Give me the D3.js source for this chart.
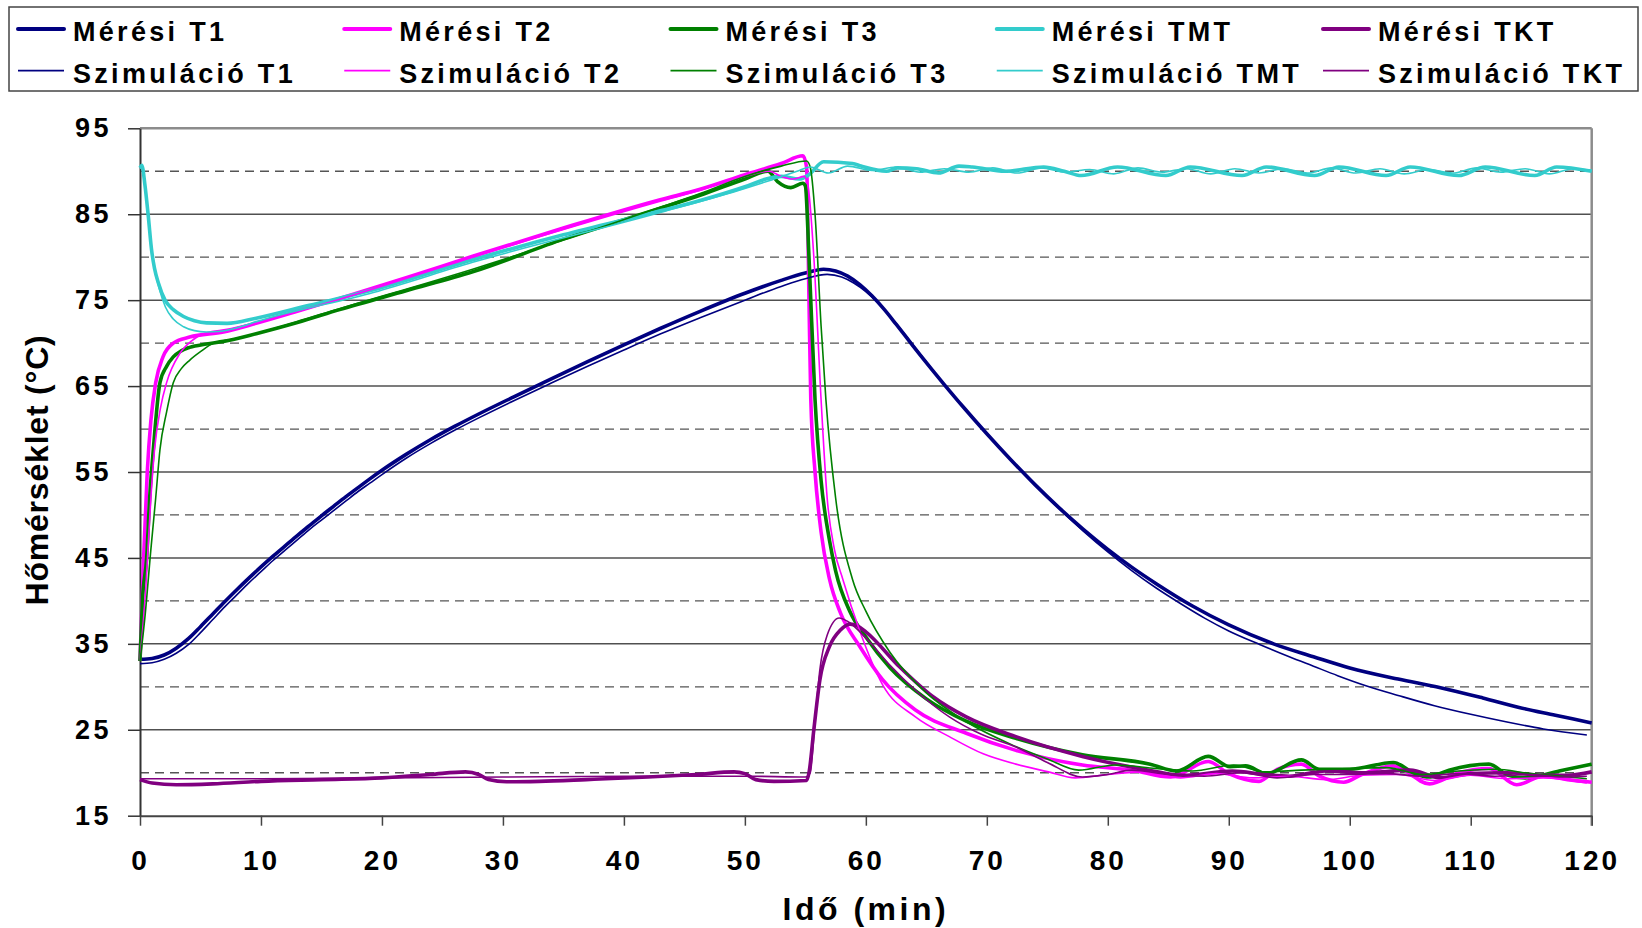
<!DOCTYPE html>
<html>
<head>
<meta charset="utf-8">
<script src="https://cdn.jsdelivr.net/npm/d3@7"></script>
<style>
  body { margin: 0; background: #fff; }
  text { font-family: Arial, "Liberation Sans", sans-serif; font-weight: bold; fill: #000; }
</style>
</head>
<body>
<svg id="chart" width="1642" height="928"></svg>
<script>
// Tengelyek
const timeTicks = [0, 10, 20, 30, 40, 50, 60, 70, 80, 90, 100, 110, 120];
const tempTicks = [15, 25, 35, 45, 55, 65, 75, 85, 95];
const tempMinor = [20, 30, 40, 50, 60, 70, 80, 90];

// Sorozatok: [idő (min), hőmérséklet (°C)]
const meresiT1 = [[0,33.2],[1,33.3],[2,33.7],[3,34.5],[4,35.6],[5,37],[6,38.45],[7,39.9],[8,41.3],[9,42.65],[10,43.95],[11,45.2],[12,46.4],[13,47.6],[14,48.75],[15,49.9],[16,51],[17,52.1],[18,53.15],[19,54.2],[20,55.2],[22,57.05],[24,58.75],[26,60.3],[28,61.75],[30.9,63.75],[34,65.85],[37,67.85],[40,69.8],[43,71.7],[46.3,73.7],[50,75.8],[53,77.3],[55,78.15],[56.5,78.6],[57.5,78.4],[58.5,77.8],[59.5,76.8],[60.5,75.5],[61.5,73.95],[62.5,72.2],[63.5,70.4],[64.5,68.6],[65.5,66.85],[66.5,65.15],[68,62.65],[70,59.45],[72,56.4],[74,53.5],[76,50.8],[78,48.3],[80,46],[82,43.9],[84,42],[87,39.4],[90,37.2],[93.7,35],[97,33.5],[100,32.2],[104,30.9],[107.5,29.9],[111,28.7],[114,27.6],[117,26.7],[120,25.8]];
const szimT1 = [[0,32.7],[1,32.8],[2,33.2],[3,33.9],[4,34.9],[5,36.3],[6,37.8],[7,39.3],[8,40.7],[9,42.1],[10,43.4],[11,44.7],[12,45.9],[13,47.1],[14,48.3],[15,49.4],[16,50.5],[17,51.6],[18,52.7],[19,53.7],[20,54.7],[22,56.6],[24,58.3],[26,59.85],[28,61.3],[30.9,63.3],[34,65.35],[37,67.3],[40,69.2],[43,71.05],[46.3,72.95],[50,75],[53,76.6],[55,77.5],[56.8,78],[58,77.7],[59,77],[60,76],[61,74.7],[62,73.1],[63,71.4],[64,69.6],[65,67.8],[66,66],[67,64.3],[68,62.7],[70,59.5],[72,56.4],[74,53.5],[76,50.7],[78,48.1],[80,45.7],[82,43.5],[84,41.5],[86,39.7],[88,38],[90,36.5],[92.6,34.9],[95,33.5],[97,32.4],[99,31.3],[101.4,30.1],[104,29],[107,27.8],[110,26.8],[113,25.9],[116,25.1],[119.6,24.4]];

const meresiT2 = [[0,33],[0.3,45],[0.6,55],[0.9,61],[1.3,65.4],[1.9,68.4],[2.75,70],[4.1,70.7],[6.9,71.3],[9.6,72.3],[13,73.7],[16.5,75.2],[22,77.6],[27.5,80.1],[35,83.4],[43,86.7],[46.3,87.9],[50,89.6],[53,90.9],[54.8,91.8],[55.1,90.5],[55.3,75],[55.45,63.4],[55.8,55],[56.3,48],[57,42.5],[57.9,38.6],[59.5,34.7],[61.4,30.8],[64.1,27.3],[68.3,24.6],[72.4,22.6],[77.9,20.9],[82,20.3],[85.2,19.5],[88.3,21.3],[90,19.9],[92.5,19],[94,20.4],[96,21],[97.5,19.6],[99.5,18.9],[101,19.8],[103.6,20.8],[106.6,18.7],[109,20],[111.5,20.5],[113.8,18.6],[116,19.6],[118,19.2],[120,18.9]];
const szimT2 = [[0,33],[0.5,42],[0.9,52],[1.2,57.6],[1.7,62.5],[2.2,65.4],[3.3,68.8],[4.3,70.3],[5.5,71.2],[7.2,71.6],[9.6,72.4],[16.5,75.1],[27.5,80],[43,86.5],[46.3,87.8],[50,89.4],[52,90],[53,89.4],[54,89.1],[54.9,89.4],[55.2,88.5],[55.7,80],[56.3,63.4],[56.8,52],[57.4,46],[58.1,42.5],[59.5,36.5],[61.4,30.2],[64.1,26.5],[66.9,24.2],[69.7,22.2],[72.4,21],[75.1,20.1],[77.3,19.4],[80,19.8],[83,20.1],[86,19.4],[89,19.9],[92,19.4],[95,19.6],[98,19.2],[101,19.7],[104,19.8],[107,19.1],[110,19.7],[113,19.3],[116,19.4],[119.6,18.8]];

const meresiT3 = [[0,33],[0.2,40],[0.55,45],[0.8,52],[1.1,57.6],[1.65,65.4],[2.2,67.3],[2.75,68.4],[3.4,69.1],[4.1,69.5],[5.5,69.9],[6.9,70.2],[9.6,71.1],[13,72.4],[16.5,73.9],[22,76.1],[27.5,78.3],[35,82.1],[43,85.7],[46.3,87.2],[50,89.1],[51.9,90],[52.7,88.8],[53.8,88.1],[54.8,88.6],[55,88.3],[55.3,80],[55.8,63.4],[56.3,54],[57,47],[57.5,43.5],[58.7,38.7],[60,35.8],[62,32.2],[65,28.6],[68.3,26],[72.4,24],[77.9,22.1],[83.5,21],[85.7,20.2],[88.3,21.9],[90.1,20.7],[91.4,20.8],[93.1,19.9],[96,21.5],[97.5,20.4],[100,20.4],[103.6,21.2],[105.4,19.9],[106.5,19.5],[108.2,20.3],[111.5,21],[113.1,19.7],[114.5,19.4],[117.6,20.3],[120,21]];
const szimT3 = [[0,33],[0.4,38],[0.9,46],[1.3,52],[1.65,57.6],[2.2,62],[2.75,65.4],[3.4,67],[4.1,68],[5,69],[6.1,70],[8.3,70.6],[9.6,71.1],[16.5,74],[27.5,78.6],[43,85.8],[46.3,87.4],[50,89.4],[53,90.6],[55.1,91.2],[55.4,90.5],[55.8,85],[56.3,72],[56.7,63.4],[57.5,52],[58.9,42.5],[60,38.8],[62,34],[65,29.3],[68,26.2],[72,23.3],[75,21.6],[77.6,20.3],[80.6,20.9],[84,20.5],[87,20.2],[90.4,20.9],[93,20.1],[96,20.3],[100,20.5],[103,20.6],[106,19.8],[109,20.2],[112,20.4],[115,19.9],[117.5,19.6],[119.6,19.3]];

const meresiTMT = [[0,90.4],[0.15,90.7],[0.4,88.5],[0.69,84.7],[0.96,80.8],[1.2,78.7],[1.52,77],[2.07,75],[2.75,73.9],[3.6,73.1],[4.5,72.6],[5.5,72.35],[7.2,72.3],[9.6,72.9],[14,74.4],[19.3,76.2],[27.5,79.7],[35,82.6],[43,85.4],[46.3,86.6],[50,88.2],[52,89.2],[53,89.4],[54.5,89.1],[55.3,89.6],[56.5,91.1],[58.9,90.9],[59.6,90.6],[61.7,90],[62.6,90.4],[64.2,90.3],[66,89.8],[67.7,90.6],[68.8,90.5],[71.5,90],[74.7,90.5],[76.4,90],[77.8,89.5],[80.8,90.5],[84.8,89.5],[86.8,90.5],[91.1,89.5],[93.1,90.5],[97.1,89.5],[99.1,90.5],[103,89.5],[105,90.5],[109,89.5],[111.2,90.5],[115.3,89.5],[117.1,90.5],[120,90]];
const szimTMT = [[0,90.3],[0.15,90.5],[0.4,88.3],[0.7,84.5],[1,80.5],[1.3,78],[1.6,76.3],[2.1,74.2],[2.75,72.8],[3.6,71.9],[4.5,71.45],[5.5,71.3],[6.5,71.35],[8.3,71.9],[9.6,72.5],[19.3,75.9],[27.5,79.4],[43,85.2],[50,88],[52,88.9],[54.5,90.1],[55.4,90.5],[56.9,89.8],[58.5,90.6],[60.5,90.1],[62.5,90.5],[64.5,89.9],[66.5,90.3],[68.5,89.9],[70.5,90.4],[72.5,89.8],[74.5,90.4],[76.5,89.9],[78.5,90.2],[80.5,89.7],[82.5,90.4],[84.5,89.9],[86.5,90.3],[88.5,89.7],[90.5,90.3],[92.5,89.8],[94.5,90.3],[96.5,89.8],[98.5,90.4],[100.5,89.8],[102.5,90.3],[104.5,89.7],[106.5,90.2],[108.5,89.8],[110.5,90.4],[112.5,89.9],[114.5,90.3],[116.5,89.7],[118.5,90.3],[120,90.1]];

const meresiTKT = [[0,19.2],[1,18.8],[3,18.6],[6,18.7],[10,19],[15,19.2],[20,19.4],[24,19.8],[26.9,20.1],[28,19.8],[28.8,19.2],[30.3,18.95],[33,19],[36.9,19.2],[42,19.5],[46,19.8],[49.1,20.1],[50,19.9],[50.9,19.2],[52.4,19],[55.1,19.1],[55.3,20],[55.7,25],[56.2,30.8],[57,34.7],[57.9,36.6],[58.7,37.3],[59.3,37.1],[60,36.4],[62.8,32.3],[65.5,28.9],[68.3,26.5],[72.4,24.2],[77.9,21.9],[83.4,20.3],[86.2,19.7],[90.3,20.2],[93,19.8],[95,19.6],[98,20.2],[101,20],[105,20.3],[107.5,19.4],[110,19.9],[113,20],[116,19.7],[118,19.7],[120,20.1]];
const szimTKT = [[0,19.3],[5,19.3],[10,19.3],[20,19.4],[30,19.5],[40,19.6],[50,19.6],[55,19.5],[55.4,20],[55.8,26],[56.2,32],[56.8,36],[57.8,38],[58.5,37.6],[60,35.7],[62,32.5],[64.1,29.6],[66.9,26.5],[69.5,24.5],[72.4,23],[75,21.2],[77.9,19.5],[80,19.8],[82,20.3],[85,19.8],[88,19.6],[91,20],[94,19.4],[97,19.8],[100,19.8],[103,19.9],[106,19.6],[109,19.9],[112,19.6],[115,19.8],[117.5,19.5],[119.6,19.6]];

const seriesNames = ["Mérési T1", "Mérési T2", "Mérési T3", "Mérési TMT", "Mérési TKT",
                     "Szimuláció T1", "Szimuláció T2", "Szimuláció T3", "Szimuláció TMT", "Szimuláció TKT"];
const seriesColors = ["#000080", "#ff00ff", "#008000", "#33cccc", "#800080"];
const seriesValues = [meresiT1, meresiT2, meresiT3, meresiTMT, meresiTKT,
                      szimT1, szimT2, szimT3, szimTMT, szimTKT];

const series = seriesNames.map((name, i) => ({
  name,
  values: seriesValues[i],
  color: seriesColors[i % 5],
  measured: i < 5
}));

// Méretek
const svg = d3.select("#chart");
const plot = { left: 140, right: 1591.7, top: 128.3, bottom: 815.7 };

const x = d3.scaleLinear().domain([0, 120]).range([plot.left, plot.right]);
const y = d3.scaleLinear().domain([15, 95]).range([plot.bottom, plot.top]);

svg.append("rect").attr("width", 1642).attr("height", 928).attr("fill", "#fff");

// Rácsvonalak
svg.append("g").selectAll("line")
  .data(tempMinor)
  .enter().append("line")
  .attr("x1", plot.left).attr("x2", plot.right)
  .attr("y1", d => y(d)).attr("y2", d => y(d))
  .attr("stroke", "#555").attr("stroke-width", 1.3)
  .attr("stroke-dasharray", "9,6");

svg.append("g").selectAll("line")
  .data(tempTicks.slice(1))
  .enter().append("line")
  .attr("x1", plot.left).attr("x2", plot.right)
  .attr("y1", d => y(d)).attr("y2", d => y(d))
  .attr("stroke", d => d === 95 ? "#8c8c8c" : "#505050")
  .attr("stroke-width", d => d === 95 ? 2.5 : 1.5);

svg.append("line")
  .attr("x1", plot.right).attr("x2", plot.right)
  .attr("y1", plot.top).attr("y2", plot.bottom + 10)
  .attr("stroke", "#8c8c8c").attr("stroke-width", 2.5);

// Tengelyek
const yAxis = svg.append("g")
  .attr("transform", `translate(${plot.left},0)`)
  .call(d3.axisLeft(y).tickValues(tempTicks).tickSize(12).tickPadding(16).tickSizeOuter(0));
yAxis.select(".domain").attr("stroke", "#333").attr("stroke-width", 2);
yAxis.selectAll(".tick line").attr("stroke", "#333").attr("stroke-width", 1.5);
yAxis.selectAll("text")
  .attr("fill", "#000")
  .style("font-size", "27px").style("letter-spacing", "3.5px")
  .style("font-family", "Arial, 'Liberation Sans', sans-serif");

const xAxis = svg.append("g")
  .attr("transform", `translate(0,${plot.bottom})`)
  .call(d3.axisBottom(x).tickValues(timeTicks).tickSize(10).tickPadding(24).tickSizeOuter(0));
xAxis.select(".domain").attr("stroke", "#444").attr("stroke-width", 2);
xAxis.selectAll(".tick line").attr("stroke", "#444").attr("stroke-width", 1.5);
xAxis.selectAll("text")
  .attr("fill", "#000")
  .style("font-size", "28px").style("letter-spacing", "3px")
  .style("font-family", "Arial, 'Liberation Sans', sans-serif");

// Görbék
const line = d3.line()
  .x(d => x(d[0]))
  .y(d => y(d[1]))
  .curve(d3.curveMonotoneX);

svg.append("g").selectAll("path")
  .data(series)
  .enter().append("path")
  .attr("d", d => line(d.values))
  .attr("fill", "none")
  .attr("stroke", d => d.color)
  .attr("stroke-width", d => d.measured ? 3.6 : 1.6)
  .attr("stroke-linejoin", "round");

// Tengelyfeliratok
svg.append("text")
  .attr("transform", "translate(48,470) rotate(-90)")
  .attr("text-anchor", "middle")
  .style("font-size", "32px").style("letter-spacing", "0.8px")
  .text("Hőmérséklet (°C)");

svg.append("text")
  .attr("x", (plot.left + plot.right) / 2)
  .attr("y", 920)
  .attr("text-anchor", "middle")
  .style("font-size", "32px").style("letter-spacing", "3.5px")
  .text("Idő (min)");

// Jelmagyarázat
svg.append("rect")
  .attr("x", 9).attr("y", 7).attr("width", 1629).attr("height", 84)
  .attr("fill", "#fff").attr("stroke", "#444").attr("stroke-width", 1.5);

const legendCol = d3.scaleLinear().domain([0, 4]).range([18, 1323]);
const legendRow = d3.scaleLinear().domain([0, 1]).range([29, 70.7]);

const items = svg.append("g").selectAll("g")
  .data(series)
  .enter().append("g")
  .attr("transform", (d, i) => `translate(${legendCol(i % 5)},${legendRow(Math.floor(i / 5))})`);

items.append("line")
  .attr("x1", 0).attr("x2", 46)
  .attr("stroke", d => d.color)
  .attr("stroke-width", d => d.measured ? 4 : 1.8)
  .attr("stroke-linecap", d => d.measured ? "round" : "butt");

items.append("text")
  .attr("x", 55).attr("y", 11.8)
  .style("font-size", "27px").style("letter-spacing", "3.3px")
  .text(d => d.name);
</script>
</body>
</html>
